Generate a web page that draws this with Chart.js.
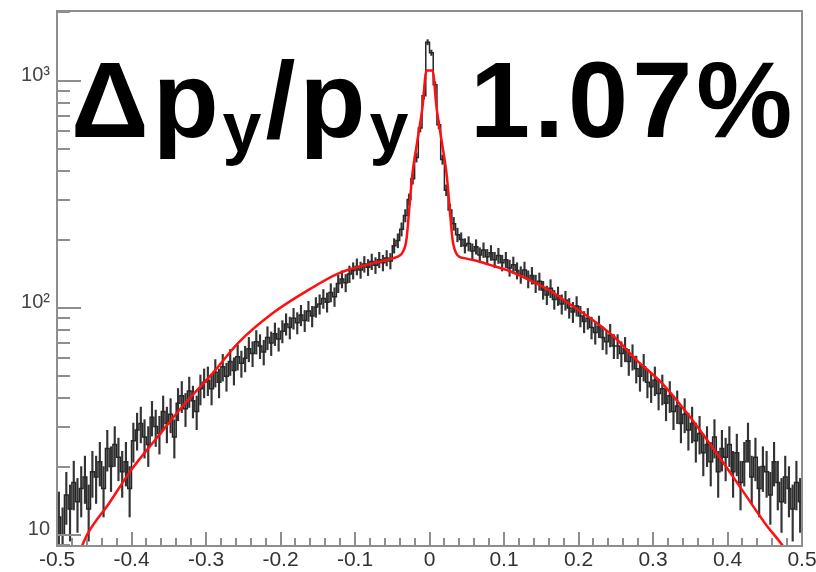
<!DOCTYPE html>
<html>
<head>
<meta charset="utf-8">
<script src="https://cdn.jsdelivr.net/npm/chart.js@4.4.0/dist/chart.umd.min.js"></script>
<style>
  html, body { margin: 0; padding: 0; background: #fff; }
  #wrap { position: relative; width: 816px; height: 572px; }
  #chart { position: absolute; left: 0; top: 0; }
  .big {
    position: absolute;
    font-family: "Liberation Sans", Arial, sans-serif;
    font-weight: bold;
    color: #000;
    font-size: 108px;
    line-height: 108px;
    white-space: nowrap;
  }
  .big .sub { font-size: 70px; line-height: 0; position: relative; top: 14px; }
  #ratio { left: 71px; top: 46px; letter-spacing: 4px; }
  #value { left: 470px; top: 46px; letter-spacing: 4px; }
</style>
</head>
<body>
<div id="wrap">
  <canvas id="chart" width="816" height="572"></canvas>
  <div class="big" id="ratio">Δp<span class="sub">y</span>/p<span class="sub">y</span></div>
  <div class="big" id="value">1.07%</div>
</div>
<script>
// histogram: 200 bins of width 0.005 between -0.5 and 0.5
const histMin = -0.5;
const histMax = 0.5;
const binWidth = 0.005;
const binCounts = [
  12, 10, 15, 13, 17, 14, 16, 18, 13, 19,
  18, 21, 16, 24, 20, 25, 22, 19, 21, 16,
  26, 29, 31, 27, 25, 33, 30, 28, 35, 31,
  34, 27, 38, 41, 36, 43, 39, 35, 44, 47,
  48, 44, 52, 47, 55, 50, 58, 53, 61, 57,
  60, 66, 63, 71, 68, 64, 74, 70, 77, 73,
  79, 85, 82, 90, 86, 93, 88, 97, 92, 101,
  104, 110, 106, 117, 112, 128, 134, 129, 141, 146,
  152, 147, 156, 151, 160, 154, 163, 158, 166, 161,
  188, 198, 222, 255, 300, 370, 460, 620, 860, 1480,
  1330, 960, 640, 450, 330, 270, 235, 210, 200, 188,
  192, 178, 186, 171, 180, 168, 175, 163, 170, 158,
  163, 150, 155, 146, 140, 147, 134, 139, 128, 131,
  120, 114, 122, 109, 113, 104, 108, 100, 96, 102,
  92, 87, 90, 82, 78, 83, 74, 71, 76, 68,
  68, 63, 66, 58, 61, 54, 50, 55, 47, 45,
  48, 42, 44, 38, 41, 35, 37, 31, 34, 29,
  31, 26, 28, 23, 25, 21, 27, 19, 24, 22,
  25, 19, 23, 17, 21, 26, 18, 22, 16, 20,
  19, 15, 21, 17, 14, 18, 16, 13, 17, 14
];

// fitted function (narrow core + broad gaussian)
const fitX = [-0.47, -0.459, -0.43, -0.401, -0.365, -0.328, -0.29, -0.257, -0.212, -0.166,
  -0.122, -0.077, -0.05, -0.04, -0.0365, -0.031, -0.027, -0.023, -0.0162, -0.0095,
  -0.004, 0.004, 0.0095, 0.0162, 0.023, 0.027, 0.031, 0.038, 0.045, 0.06,
  0.08, 0.108, 0.14, 0.16, 0.19, 0.22, 0.247, 0.28, 0.311, 0.35,
  0.385, 0.423, 0.45, 0.477, 0.485];
const fitY = [8.4, 10.1, 13.8, 19.2, 27, 38, 52, 70, 94, 118,
  142, 157, 165, 170, 175, 199, 277, 387, 546, 762,
  1110, 1110, 762, 546, 387, 277, 199, 170, 166, 162,
  155, 145, 130, 120, 103, 88, 75, 58, 47, 33,
  23, 15.2, 11.3, 8.7, 7.9];

const xTicks = [-0.5, -0.4, -0.3, -0.2, -0.1, 0, 0.1, 0.2, 0.3, 0.4, 0.5];
const xTickLabels = ['-0.5', '-0.4', '-0.3', '-0.2', '-0.1', '0', '0.1', '0.2', '0.3', '0.4', '0.5'];
const yTicks = [10, 100, 1000];
const yTickLabels = ['10', '10²', '10³'];

const binCenters = binCounts.map((c, i) => histMin + (i + 0.5) * binWidth);
const histPoints = [{x: histMin, y: binCounts[0]}]
  .concat(binCounts.map((c, i) => ({x: binCenters[i], y: c})))
  .concat([{x: histMax, y: binCounts[binCounts.length - 1]}]);
const errorPoints = binCounts.map((c, i) => ({x: binCenters[i], y: [c - Math.sqrt(c), c + Math.sqrt(c)]}));
const fitPoints = fitX.map((x, i) => ({x: x, y: fitY[i]}));

// frame box and inward ticks like a ROOT canvas
const axisFrame = {
  id: 'axisFrame',
  afterDraw(chart) {
    const {ctx, chartArea: a, scales: {x, y}} = chart;
    ctx.save();
    ctx.strokeStyle = '#8e8e8e';
    ctx.lineWidth = 2;
    ctx.strokeRect(a.left, a.top, a.right - a.left, a.bottom - a.top);
    ctx.beginPath();
    for (let e = 0; e <= 3; e++) {
      for (let m = 1; m <= 9; m++) {
        const v = m * Math.pow(10, e);
        if (v < y.min || v > y.max) continue;
        const py = Math.round(y.getPixelForValue(v));
        ctx.moveTo(a.left, py);
        ctx.lineTo(a.left + (m === 1 ? 24 : 13), py);
      }
    }
    for (let k = -25; k <= 25; k++) {
      const px = Math.round(x.getPixelForValue(k * 0.02));
      ctx.moveTo(px, a.bottom);
      ctx.lineTo(px, a.bottom - (k % 5 === 0 ? 14 : 8));
    }
    ctx.stroke();
    ctx.restore();
  }
};

// the frame is fixed by hand, so label overhang must not push it inward
function fixAxis(size) {
  return s => {
    if (s.isHorizontal()) s.height = size; else s.width = size;
    s.paddingTop = 0;
    s.paddingBottom = 0;
    s.paddingLeft = 0;
    s.paddingRight = 0;
  };
}

Chart.defaults.font.family = '"Liberation Sans", Arial, sans-serif';

new Chart(document.getElementById('chart').getContext('2d'), {
  type: 'line',
  data: {
    datasets: [{
      label: 'fit',
      data: fitPoints,
      borderColor: '#ff1010',
      borderWidth: 2.5,
      pointRadius: 0,
      cubicInterpolationMode: 'monotone',
      order: 0
    }, {
      label: 'histogram',
      data: histPoints,
      borderColor: '#262626',
      borderWidth: 1.5,
      pointRadius: 0,
      stepped: 'middle',
      order: 1
    }, {
      type: 'bar',
      label: 'errors',
      data: errorPoints,
      backgroundColor: '#333',
      borderWidth: 0,
      barThickness: 1.5,
      order: 2
    }]
  },
  options: {
    responsive: false,
    animation: false,
    devicePixelRatio: 1,
    layout: {padding: {top: 11, right: 14, left: 0, bottom: 0}},
    plugins: {legend: {display: false}, tooltip: {enabled: false}},
    scales: {
      x: {
        type: 'linear',
        min: histMin,
        max: histMax,
        offset: false,
        afterBuildTicks: s => { s.ticks = xTicks.map(v => ({value: v})); },
        afterFit: fixAxis(26),
        grid: {display: false, drawTicks: false},
        border: {display: false},
        ticks: {
          callback: (v, i) => xTickLabels[i],
          font: {size: 21},
          color: '#333',
          padding: 2,
          maxRotation: 0,
          autoSkip: false
        }
      },
      y: {
        type: 'logarithmic',
        min: 8.94,
        max: 2030,
        afterBuildTicks: s => { s.ticks = yTicks.map(v => ({value: v})); },
        afterFit: fixAxis(57),
        grid: {display: false, drawTicks: false},
        border: {display: false},
        ticks: {
          callback: (v, i) => yTickLabels[i],
          font: {size: 20},
          color: '#444',
          padding: 7,
          labelOffset: -5,
          autoSkip: false
        }
      }
    }
  },
  plugins: [axisFrame]
});
</script>
</body>
</html>
